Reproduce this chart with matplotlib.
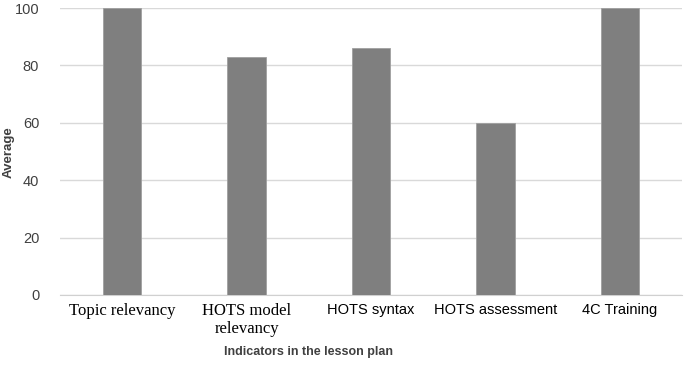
import matplotlib
matplotlib.use("Agg")
import matplotlib.pyplot as plt

categories = ["Topic relevancy", "HOTS model\nrelevancy", "HOTS syntax", "HOTS assessment", "4C Training"]
values = [100, 83, 86, 60, 100]
label_fonts = ["Liberation Serif", "Liberation Serif", "Liberation Sans", "Liberation Sans", "Liberation Sans"]
yticks = [0, 20, 40, 60, 80, 100]

fig = plt.figure(figsize=(6.85, 3.65), dpi=100)
ax = fig.add_axes([60/685, 1-295/365, 622/685, 287/365])

x = list(range(len(categories)))
ax.bar(x, values, width=0.31, color="#7f7f7f", edgecolor="#a0a0a0", linewidth=0.6, zorder=3)

ax.set_xlim(-0.5, len(categories)-0.5)
ax.set_ylim(0, 100)
ax.set_yticks(yticks)
ax.yaxis.grid(True, color="#d9d9d9", linewidth=1.0, zorder=0)
ax.set_axisbelow(True)
for s in ["top", "right", "left"]:
    ax.spines[s].set_visible(False)
ax.spines["bottom"].set_color("#d0d0d0")
ax.tick_params(axis="both", length=0)
ax.tick_params(axis="y", labelsize=10.5, labelcolor="#404040", pad=15)
ax.set_yticklabels([str(v) for v in yticks], family="Liberation Sans")

ax.set_xticks(x)
ax.set_xticklabels(categories)
for lab, f in zip(ax.get_xticklabels(), label_fonts):
    lab.set_family(f)
    lab.set_fontsize(12 if "Serif" in f else 10.5)
    lab.set_color("#000000")
    lab.set_linespacing(1.15)
ax.tick_params(axis="x", pad=6)

fig.text(9/685, 1-152/365, "Average", rotation=90, fontsize=9.5, fontweight="bold", color="#404040",
         family="Liberation Sans", ha="center", va="center")
fig.text(308/685, 1-352/365, "Indicators in the lesson plan", fontsize=9, fontweight="bold",
         color="#404040", family="Liberation Sans", ha="center", va="center")

fig.savefig("out.png", dpi=100)
